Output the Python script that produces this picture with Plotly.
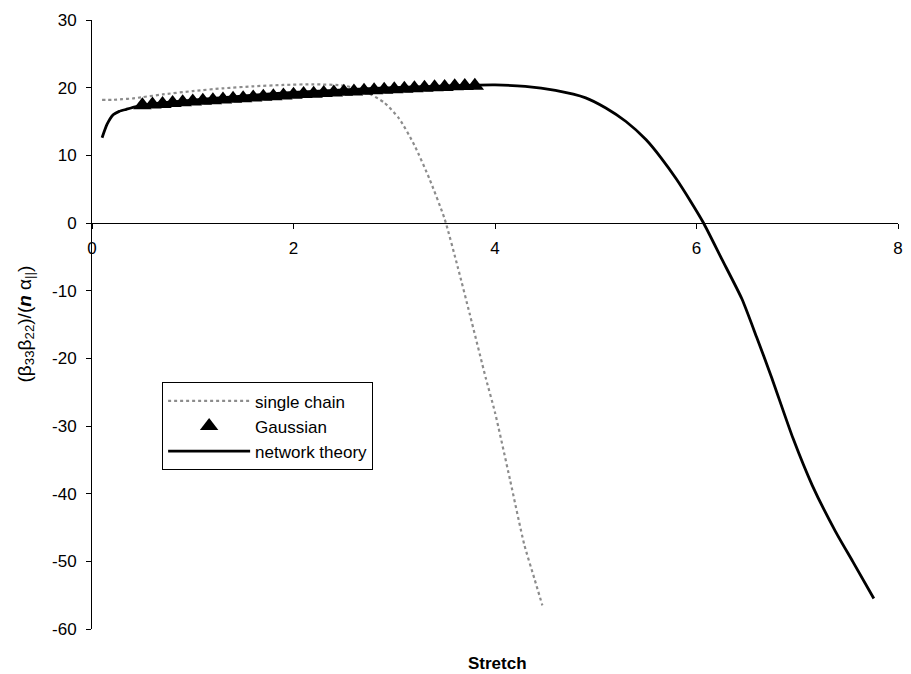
import plotly.graph_objects as go

# Single-chain model
single_x = [0.1, 0.2, 0.3, 0.4, 0.5, 0.7, 1.0, 1.3, 1.6, 1.9, 2.2, 2.5, 2.7, 2.9,
            3.05, 3.2, 3.35, 3.5, 3.63, 3.75, 3.91, 4.0, 4.15, 4.29, 4.39, 4.47]
single_y = [18.2, 18.2, 18.3, 18.4, 18.6, 19.0, 19.5, 19.9, 20.2, 20.4, 20.5, 20.3, 19.5, 17.8,
            15.4, 11.5, 6.5, 0.6, -6.5, -13.5, -23.0, -28.0, -38.0, -47.5, -52.5, -56.5]

# Gaussian approximation
gauss_x = [0.5, 0.6, 0.7, 0.8, 0.9, 1.0, 1.1, 1.2, 1.3, 1.4, 1.5, 1.6, 1.7, 1.8, 1.9, 2.0, 2.1,
           2.2, 2.3, 2.4, 2.5, 2.6, 2.7, 2.8, 2.9, 3.0, 3.1, 3.2, 3.3, 3.4, 3.5, 3.6, 3.7, 3.8]
gauss_y = [17.4, 17.5, 17.6, 17.75, 17.85, 17.95, 18.05, 18.15, 18.25, 18.35, 18.45, 18.55,
           18.65, 18.75, 18.85, 18.95, 19.05, 19.1, 19.2, 19.3, 19.4, 19.45, 19.55, 19.6, 19.7,
           19.75, 19.85, 19.9, 20.0, 20.05, 20.1, 20.2, 20.25, 20.3]

# Network theory
network_x = [0.1, 0.15, 0.21, 0.27, 0.34, 0.44, 0.55, 0.8, 1.2, 1.6, 2.0, 2.4, 2.8, 3.2, 3.6,
             4.0, 4.3, 4.6, 4.9, 5.1, 5.3, 5.5, 5.65, 5.8, 5.95, 6.07, 6.25, 6.45, 6.6, 6.74,
             6.96, 7.15, 7.38, 7.55, 7.76]
network_y = [12.6, 14.6, 16.0, 16.5, 16.8, 17.2, 17.5, 17.9, 18.4, 18.9, 19.3, 19.6, 19.9,
             20.1, 20.3, 20.4, 20.2, 19.6, 18.5, 17.0, 15.0, 12.3, 9.6, 6.5, 3.0, 0.0, -5.3,
             -11.2, -17.0, -22.6, -31.9, -38.8, -45.6, -50.0, -55.5]

x_ticks = [0, 2, 4, 6, 8]
y_ticks = [30, 20, 10, 0, -10, -20, -30, -40, -50, -60]
y_tick_text = ["30", "20", "10", "0", "-10", "-20", "-30", "-40", "-50", "-60"]

FONT = "Liberation Sans, Arial, sans-serif"
FS = 17
X_RANGE = [0, 8]
Y_RANGE = [-60, 30]
zero_pos = (0 - Y_RANGE[0]) / (Y_RANGE[1] - Y_RANGE[0])

fig = go.Figure()
fig.add_trace(go.Scatter(
    x=single_x, y=single_y, mode="lines", name="single chain",
    line=dict(color="#8c8c8c", width=2.2, dash="dot", shape="spline", smoothing=0.6),
))
fig.add_trace(go.Scatter(
    x=gauss_x, y=gauss_y, mode="markers", name="Gaussian",
    marker=dict(symbol="triangle-up", size=16, color="black"),
))
fig.add_trace(go.Scatter(
    x=network_x, y=network_y, mode="lines", name="network theory",
    line=dict(color="black", width=2.8, shape="spline", smoothing=0.6),
))

axis_common = dict(showgrid=False, zeroline=False, linecolor="black", linewidth=1,
                   tickcolor="black", ticklen=5, tickwidth=1,
                   tickfont=dict(family=FONT, size=FS, color="black"))

fig.update_layout(
    width=911, height=674,
    margin=dict(l=92, r=8, t=20, b=45),
    paper_bgcolor="white", plot_bgcolor="white",
    font=dict(family=FONT, size=FS, color="black"),
    xaxis=dict(range=X_RANGE, tickvals=x_ticks, ticks="outside", showline=True,
               anchor="free", position=zero_pos, ticklabelstandoff=5, **axis_common),
    yaxis=dict(range=Y_RANGE, tickvals=y_ticks, ticktext=y_tick_text, ticks="outside",
               showline=True, ticklabelstandoff=6, **axis_common),
    showlegend=True,
    legend=dict(x=0.087, y=0.405, xanchor="left", yanchor="top",
                bgcolor="white", bordercolor="black", borderwidth=1,
                font=dict(family=FONT, size=FS, color="black"),
                tracegroupgap=0, itemwidth=82),
    annotations=[
        dict(text="<b>Stretch</b>", xref="paper", yref="paper", x=0.5027, y=0, yshift=-34,
             showarrow=False, font=dict(family=FONT, size=FS, color="black"),
             xanchor="center", yanchor="middle"),
        dict(text="(β<sub>33</sub>β<sub>22</sub>)/(<b><i>n</i></b> α<sub>||</sub>)",
             xref="paper", yref="paper", x=0, xshift=-67, y=0.5, textangle=-90,
             showarrow=False, font=dict(family=FONT, size=19, color="black"),
             xanchor="center", yanchor="middle"),
    ],
)

fig.write_html("out.html")
